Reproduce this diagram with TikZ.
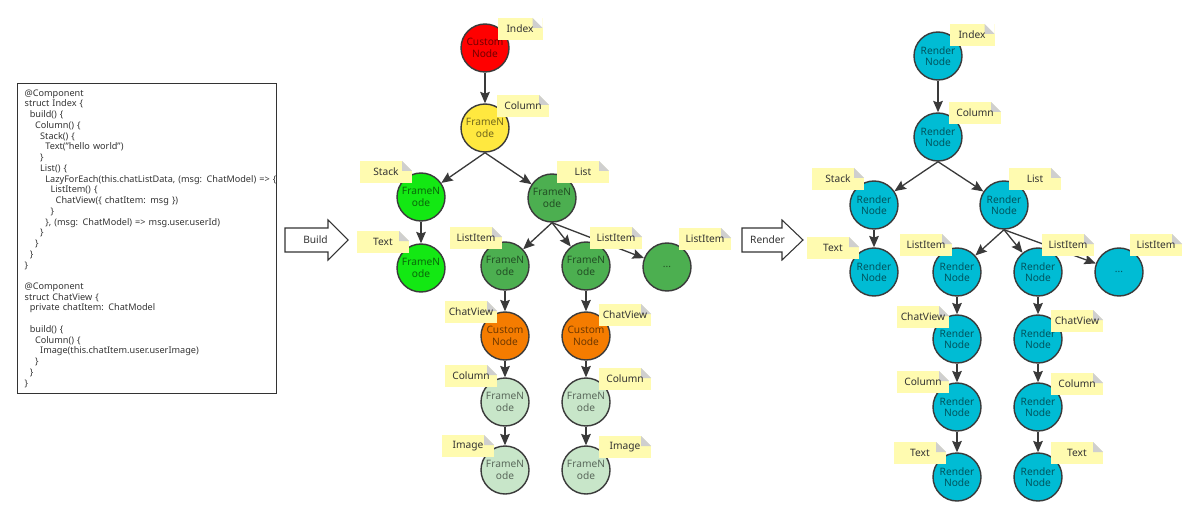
\documentclass[tikz,border=0pt]{standalone}
\usepackage{fontspec}
\setmainfont{Noto Sans}
\usetikzlibrary{calc,arrows.meta,positioning}
\definecolor{cink}{HTML}{333333}
\definecolor{cline}{HTML}{3A3A3A}
\definecolor{cnote}{HTML}{FFFBB0}
\definecolor{cfold}{HTML}{CFCFCF}
\definecolor{cred}{HTML}{FF0000}
\definecolor{cyellow}{HTML}{FFE83F}
\definecolor{clime}{HTML}{13E813}
\definecolor{cgreen}{HTML}{4CAF50}
\definecolor{corange}{HTML}{F57C00}
\definecolor{cpale}{HTML}{C8E6C9}
\definecolor{ccyan}{HTML}{00BCD4}
\newlength\indw
\setlength\indw{2.95pt}
\newcommand\ind[1]{\hspace*{#1\indw}}

\begin{document}
\begin{tikzpicture}[
  vnode/.style={circle, draw=cline, line width=0.8pt, minimum size=0.96cm, inner sep=0pt,
                align=center, fill=#1, text=#1!45!black, font=\fontsize{5.8}{6.6}\selectfont},
  note/.style={fill=cnote, minimum width=1.04cm, minimum height=0.44cm, inner sep=0pt,
               text=cink, font=\fontsize{5.8}{6.6}\selectfont,
               path picture={
                 \fill[white] ([xshift=-0.2cm]path picture bounding box.north east)
                   -- (path picture bounding box.north east)
                   -- ([yshift=-0.2cm]path picture bounding box.north east) -- cycle;
                 \fill[cfold] ([xshift=-0.2cm]path picture bounding box.north east)
                   -- ([xshift=-0.2cm,yshift=-0.2cm]path picture bounding box.north east)
                   -- ([yshift=-0.2cm]path picture bounding box.north east) -- cycle;}},
  code/.style={draw=cink, line width=0.7pt, align=left, anchor=north west, inner xsep=4pt,
               text width=5.18cm-8pt, minimum height=6.2cm, text=cink,
               font=\fontsize{5.2}{6.11}\selectfont},
  bigarr/.style={draw=cink, line width=0.6pt, fill=white},
  arrlabel/.style={text=cink, font=\fontsize{5.8}{6.6}\selectfont},
  arr/.style={-{Stealth[length=6.5pt, width=5.5pt, inset=1pt]}, cline, line width=0.75pt}]
\useasboundingbox (0,0) rectangle (24,-10.34);
%% source code
\node[code] (src) at (0.34,-1.66)
  {@Component\\
   struct Index \{\\
   \ind{1}build() \{\\
   \ind{2}Column() \{\\
   \ind{3}Stack() \{\\
   \ind{4}Text("hello world")\\
   \ind{3}\}\\
   \ind{3}List() \{\\
   \ind{4}\mbox{LazyForEach(this.chatListData, (msg: ChatModel) => \{}\\
   \ind{5}ListItem() \{\\
   \ind{6}ChatView(\{ chatItem: msg \})\\
   \ind{5}\}\\
   \ind{4}\}, (msg: ChatModel) => msg.user.userId)\\
   \ind{3}\}\\
   \ind{2}\}\\
   \ind{1}\}\\
   \}\\
   \mbox{}\\
   @Component\\
   struct ChatView \{\\
   \ind{1}private chatItem: ChatModel\\
   \mbox{}\\
   \ind{1}build() \{\\
   \ind{2}Column() \{\\
   \ind{3}Image(this.chatItem.user.userImage)\\
   \ind{2}\}\\
   \ind{1}\}\\
   \}};
%% block arrows
\draw[bigarr] (5.70,-4.56) -- (6.56,-4.56) -- (6.56,-4.40) -- (6.96,-4.80)
  -- (6.56,-5.20) -- (6.56,-5.04) -- (5.70,-5.04) -- cycle;
\node[arrlabel] (build) at (6.31,-4.80) {Build};
\draw[bigarr] (14.84,-4.56) -- (15.64,-4.56) -- (15.64,-4.40) -- (16.06,-4.80)
  -- (15.64,-5.20) -- (15.64,-5.04) -- (14.84,-5.04) -- cycle;
\node[arrlabel] (render) at (15.35,-4.80) {Render};
%% component tree
\node[vnode=cred] (mroot) at (9.70,-0.96) {Custom\\Node};
\node[vnode=cyellow] (mcol) at (9.70,-2.56) {FrameN\\ode};
\node[vnode=clime] (mstack) at (8.42,-3.94) {FrameN\\ode};
\node[vnode=clime] (mtext) at ($(mstack)+(0,-1.42)$) {FrameN\\ode};
\node[vnode=cgreen] (mlist) at (11.04,-3.96) {FrameN\\ode};
\node[vnode=cgreen] (mli1) at (10.10,-5.32) {FrameN\\ode};
\node[vnode=cgreen] (mli2) at (11.72,-5.32) {FrameN\\ode};
\node[vnode=cgreen] (mli3) at (13.34,-5.34) {...};
\node[vnode=corange] (mcv1) at ($(mli1)+(0,-1.40)$) {Custom\\Node};
\node[vnode=corange] (mcv2) at ($(mli2)+(0,-1.40)$) {Custom\\Node};
\node[vnode=cpale] (mco1) at ($(mcv1)+(0,-1.32)$) {FrameN\\ode};
\node[vnode=cpale] (mco2) at ($(mcv2)+(0,-1.32)$) {FrameN\\ode};
\node[vnode=cpale] (mim1) at ($(mco1)+(0,-1.36)$) {FrameN\\ode};
\node[vnode=cpale] (mim2) at ($(mco2)+(0,-1.36)$) {FrameN\\ode};
\foreach \a/\b in {mroot/mcol,mcol/mstack,mcol/mlist,mstack/mtext,mlist/mli1,mlist/mli2,mlist/mli3,
                   mli1/mcv1,mcv1/mco1,mco1/mim1,mli2/mcv2,mcv2/mco2,mco2/mim2}
  \draw[arr] (\a.south) -- (\b);
%% render tree
\node[vnode=ccyan] (rroot) at (18.76,-1.12) {Render\\Node};
\node[vnode=ccyan] (rcol) at (18.76,-2.74) {Render\\Node};
\node[vnode=ccyan] (rstack) at (17.48,-4.10) {Render\\Node};
\node[vnode=ccyan] (rtext) at ($(rstack)+(0,-1.34)$) {Render\\Node};
\node[vnode=ccyan] (rlist) at (20.08,-4.10) {Render\\Node};
\node[vnode=ccyan] (rli1) at (19.14,-5.44) {Render\\Node};
\node[vnode=ccyan] (rli2) at (20.76,-5.44) {Render\\Node};
\node[vnode=ccyan] (rli3) at (22.38,-5.44) {...};
\node[vnode=ccyan] (rcv1) at ($(rli1)+(0,-1.34)$) {Render\\Node};
\node[vnode=ccyan] (rcv2) at ($(rli2)+(0,-1.34)$) {Render\\Node};
\node[vnode=ccyan] (rco1) at ($(rcv1)+(0,-1.36)$) {Render\\Node};
\node[vnode=ccyan] (rco2) at ($(rcv2)+(0,-1.36)$) {Render\\Node};
\node[vnode=ccyan] (rtx1) at ($(rco1)+(0,-1.40)$) {Render\\Node};
\node[vnode=ccyan] (rtx2) at ($(rco2)+(0,-1.40)$) {Render\\Node};
\foreach \a/\b in {rroot/rcol,rcol/rstack,rcol/rlist,rstack/rtext,rlist/rli1,rlist/rli2,rlist/rli3,
                   rli1/rcv1,rcv1/rco1,rco1/rtx1,rli2/rcv2,rcv2/rco2,rco2/rtx2}
  \draw[arr] (\a.south) -- (\b);
%% notes, component tree
\node[note, minimum width=0.9cm] (nmroot) at (10.40,-0.58) {Index};
\node[note] (nmcol) at (10.46,-2.12) {Column};
\node[note] (nmstack) at (7.72,-3.44) {Stack};
\node[note] (nmlist) at (11.66,-3.44) {List};
\node[note] (nmtext) at (7.66,-4.84) {Text};
\node[note] (nmli1) at (9.52,-4.76) {ListItem};
\node[note] (nmli2) at (12.32,-4.76) {ListItem};
\node[note] (nmli3) at (14.10,-4.78) {ListItem};
\node[note] (nmcv1) at (9.42,-6.24) {ChatView};
\node[note] (nmcv2) at (12.50,-6.30) {ChatView};
\node[note] (nmco1) at (9.42,-7.52) {Column};
\node[note] (nmco2) at (12.50,-7.58) {Column};
\node[note] (nmim1) at (9.36,-8.92) {Image};
\node[note] (nmim2) at (12.50,-8.94) {Image};
%% notes, render tree
\node[note, minimum width=0.9cm] (nrroot) at (19.44,-0.70) {Index};
\node[note] (nrcol) at (19.50,-2.26) {Column};
\node[note] (nrstack) at (16.76,-3.58) {Stack};
\node[note] (nrlist) at (20.70,-3.58) {List};
\node[note] (nrtext) at (16.66,-4.96) {Text};
\node[note] (nrli1) at (18.52,-4.90) {ListItem};
\node[note] (nrli2) at (21.36,-4.90) {ListItem};
\node[note] (nrli3) at (23.12,-4.90) {ListItem};
\node[note] (nrcv1) at (18.46,-6.34) {ChatView};
\node[note] (nrcv2) at (21.54,-6.42) {ChatView};
\node[note] (nrco1) at (18.46,-7.64) {Column};
\node[note] (nrco2) at (21.54,-7.68) {Column};
\node[note] (nrtx1) at (18.40,-9.06) {Text};
\node[note] (nrtx2) at (21.54,-9.06) {Text};
\end{tikzpicture}
\end{document}
